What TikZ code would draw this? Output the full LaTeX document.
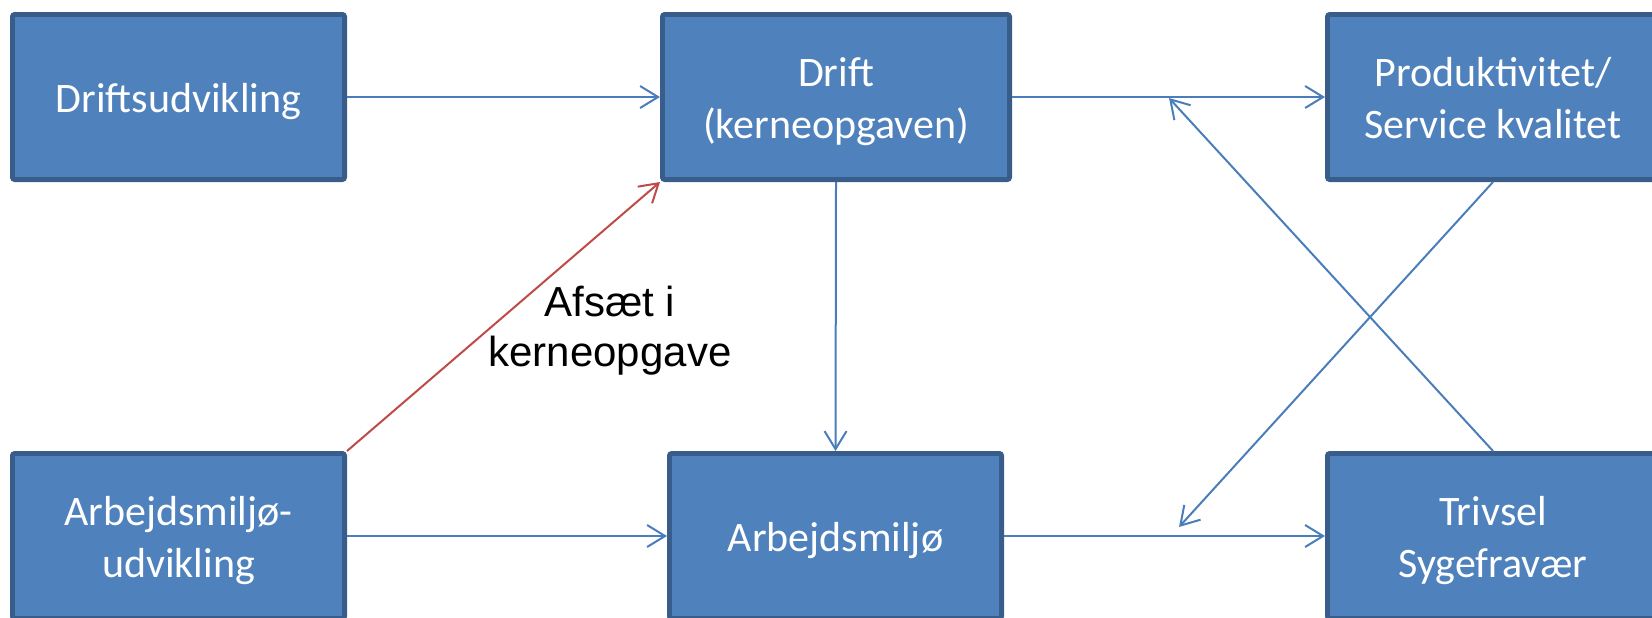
\documentclass[tikz,border=0pt]{standalone}
\usepackage{fontspec}
\setmainfont{Carlito}
\newfontfamily\carlitofont{Carlito}
\newfontfamily\arialfont{Liberation Sans}
\usetikzlibrary{arrows.meta}
\definecolor{boxfill}{HTML}{4F81BD}
\definecolor{boxborder}{HTML}{385D8A}
\definecolor{arrowblue}{HTML}{4A7EBB}
\definecolor{arrowred}{HTML}{BE4B48}
\newcommand{\boxtxt}[1]{\raisebox{-2.6pt}[\height][\depth]{\begin{tabular}{@{}c@{}}#1\end{tabular}}}
\begin{document}
\begin{tikzpicture}[x=0.5pt,y=-0.5pt,
  boxnode/.style={draw=boxborder, fill=boxfill, line width=2.4pt, text=white,
    font=\carlitofont\fontsize{21}{26}\selectfont,
    minimum height=82.6pt, inner sep=0pt, rounded corners=1.2pt},
  conn/.style={draw=arrowblue, line width=1pt, -{Straight Barb[length=9pt,width=11pt]}},
  redconn/.style={draw=arrowred, line width=1pt, -{Straight Barb[length=9pt,width=11pt]}},
  lbl/.style={font=\arialfont\fontsize{21}{25}\selectfont, align=center, text=black, inner sep=0pt}
]
\clip (0,0) rectangle (1652,617);
\node[boxnode, minimum width=166.1pt] (b1) at (178.5,97) {\boxtxt{Driftsudvikling}};
\node[boxnode, minimum width=173.6pt] (b2) at (836,97) {\boxtxt{Drift\\(kerneopgaven)}};
\node[boxnode, minimum width=165.6pt] (b3) at (1493,97) {\boxtxt{Produktivitet/\\Service kvalitet}};
\node[boxnode, minimum width=166.1pt] (b4) at (178.5,536) {\boxtxt{Arbejdsmiljø-\\udvikling}};
\node[boxnode, minimum width=166.1pt] (b5) at (835.5,536) {\boxtxt{Arbejdsmiljø}};
\node[boxnode, minimum width=165.6pt] (b6) at (1493,536) {\boxtxt{Trivsel\\Sygefravær}};
\coordinate (c1) at (1169,98);
\coordinate (c2) at (1179,527);
\draw[conn] (b1.east) -- (b2.west);
\draw[conn] (b2.east) -- (b3.west);
\draw[conn] (b2.south) -- (b5.north);
\draw[conn] (b4.east) -- (b5.west);
\draw[conn] (b5.east) -- (b6.west);
\draw[conn] (b3.south) -- (c2);
\draw[conn] (b6.north) -- (c1);
\draw[redconn] (b4.north east) -- (b2.south west);
\node[lbl] (l1) at (610,331) {Afsæt i\\kerneopgave};
\end{tikzpicture}
\end{document}
